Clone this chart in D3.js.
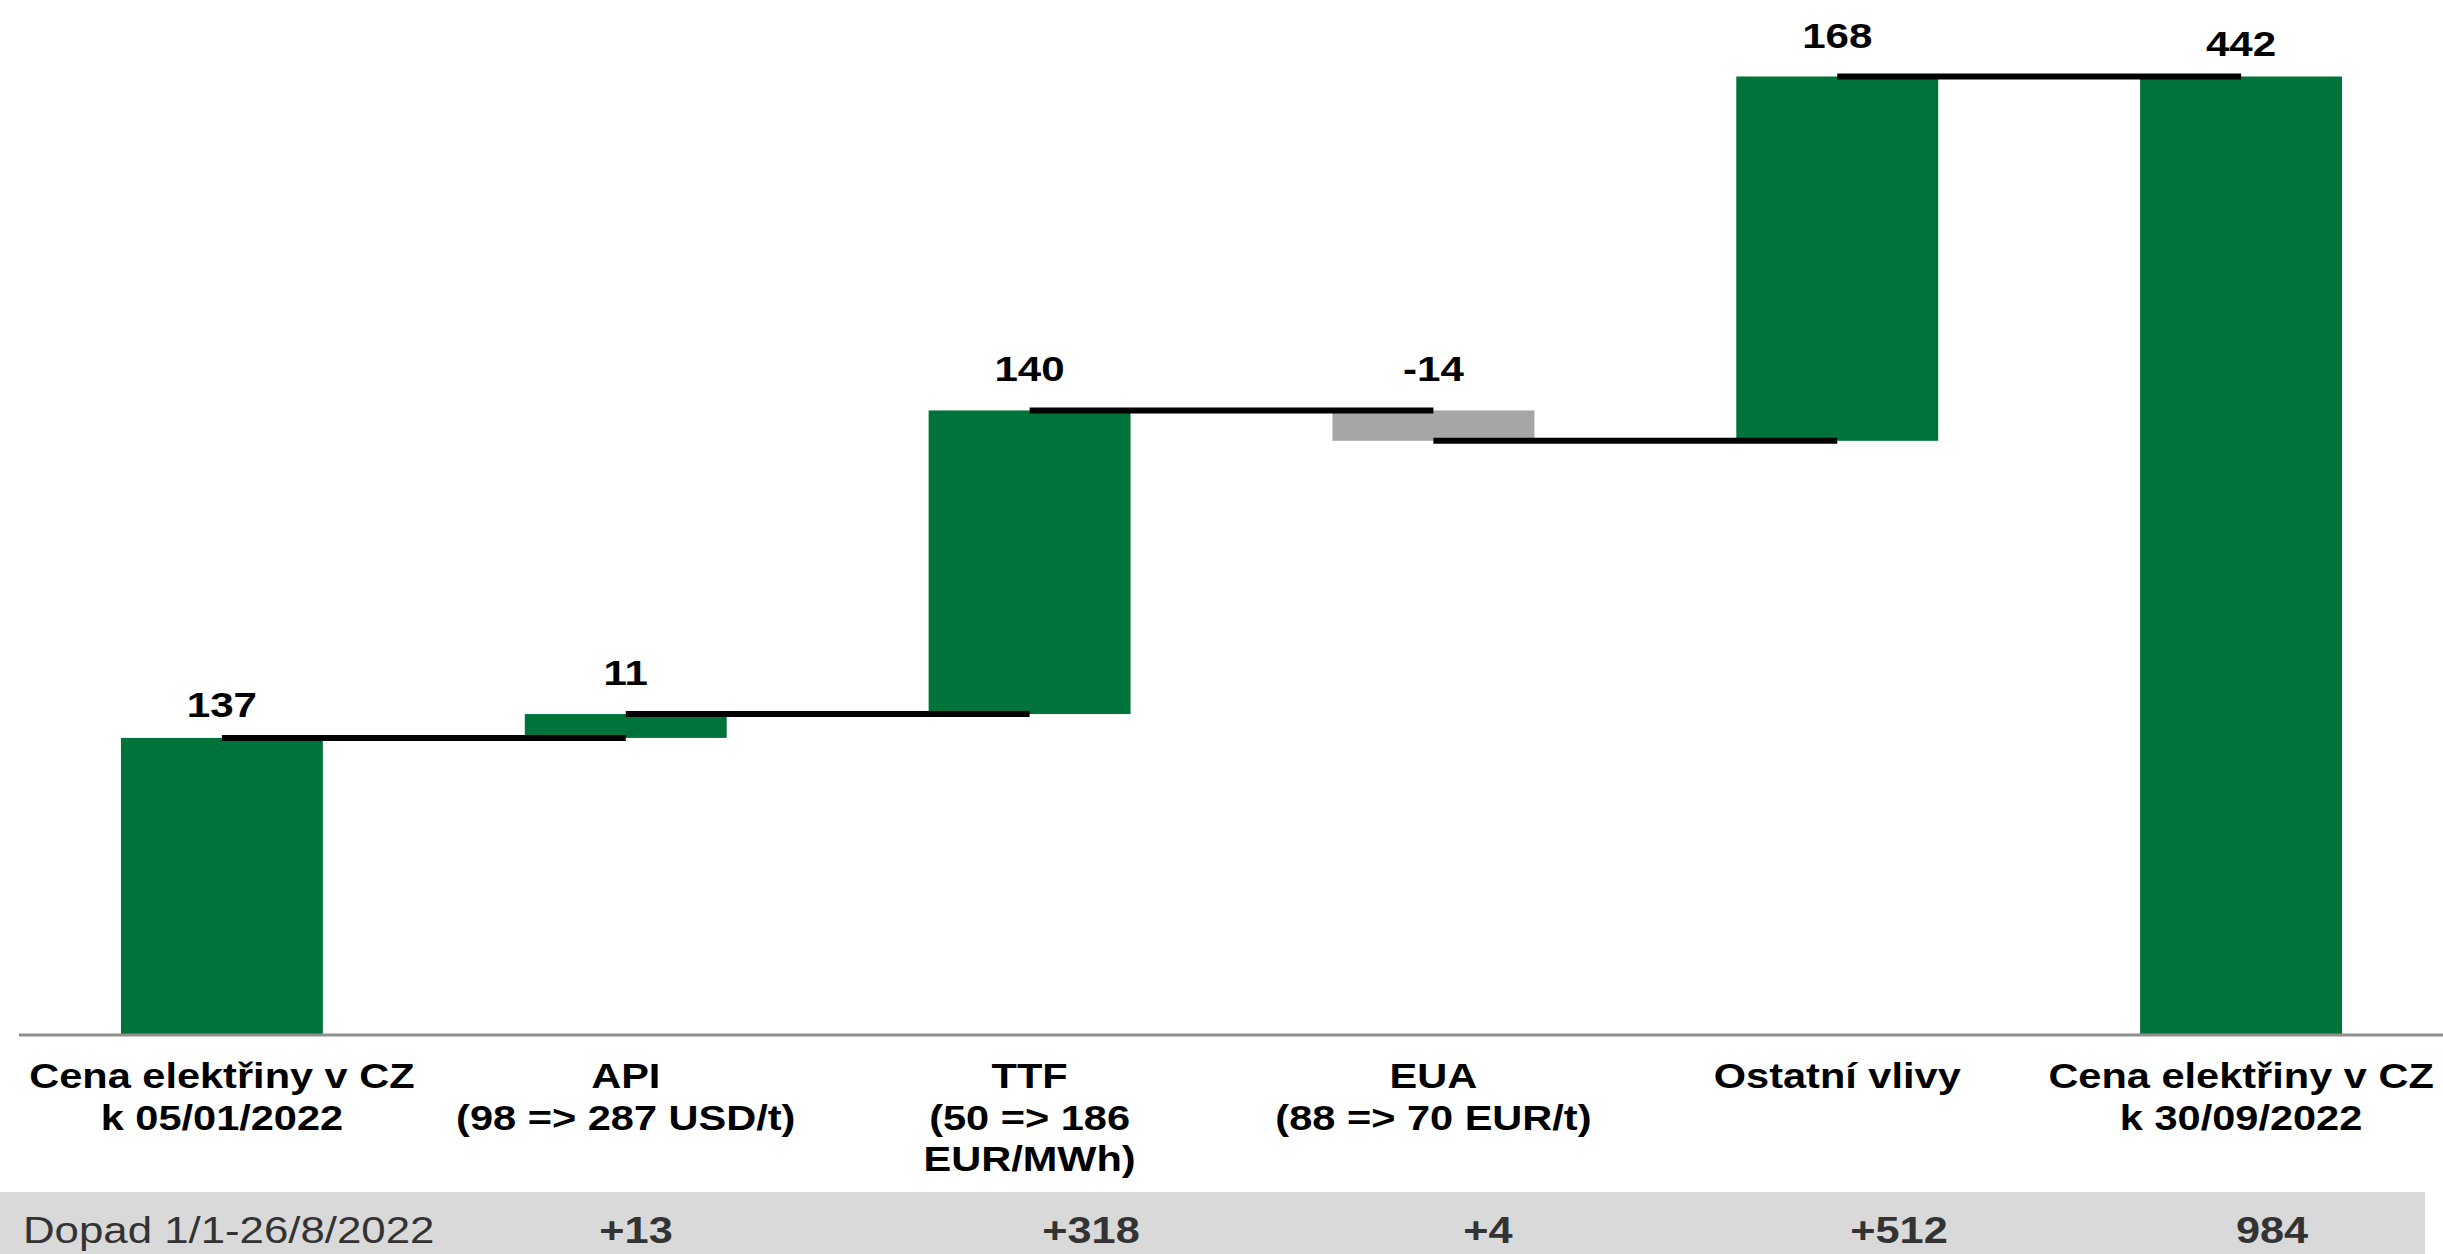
<!DOCTYPE html>
<html><head><meta charset="utf-8">
<script src="https://cdn.jsdelivr.net/npm/d3@7"></script>
<style>html,body{margin:0;padding:0;background:#fff;overflow:hidden}</style>
</head><body><svg id="c" width="2443" height="1254"></svg>
<script>
// ---- data ----
const categories = ["start", "API", "TTF", "EUA", "other", "end"];
const categoryLabels = [
  ["Cena elektřiny v CZ", "k 05/01/2022"],
  ["API", "(98 => 287 USD/t)"],
  ["TTF", "(50 => 186", "EUR/MWh)"],
  ["EUA", "(88 => 70 EUR/t)"],
  ["Ostatní vlivy"],
  ["Cena elektřiny v CZ", "k 30/09/2022"]
];
const values = [137, 11, 140, -14, 168, 442];
const barTypes = ["total", "delta", "delta", "delta", "delta", "total"];
const valueLabels = ["137", "11", "140", "-14", "168", "442"];
const tableTitle = "Dopad 1/1-26/8/2022";
const tableValues = ["+13", "+318", "+4", "+512", "984"];

// ---- layout ----
const W = 2443, H = 1254;
const axisY = 1035;
const tableColX = [636, 1091, 1488, 1899, 2272];
const SX = 1.17; // horizontal text stretch
const green = "#00733a", grey = "#a6a6a6";

const svg = d3.select("#c");

const x = d3.scaleBand().domain(categories).range([20, W]).paddingInner(0.5).paddingOuter(0.25);
const y = d3.scaleLinear().domain([0, 442]).range([axisY, 76.5]);

// waterfall computation
let cum = 0;
const bars = categories.map((c, i) => {
  let start, end;
  if (barTypes[i] === "total") { start = 0; end = values[i]; }
  else { start = cum; end = cum + values[i]; }
  cum = end;
  return { c, i, start, end, v: values[i], type: barTypes[i] };
});

function stext(sel, px, py, txt, opts) {
  return sel.append("text")
    .attr("transform", `translate(${px},${py}) scale(${opts.sx || SX},1)`)
    .attr("text-anchor", opts.anchor || "middle")
    .attr("font-family", "'Liberation Sans', Arial, sans-serif")
    .attr("font-size", opts.size || 35)
    .attr("font-weight", opts.weight || "bold")
    .attr("fill", opts.fill || "#000")
    .text(txt);
}

// bars
svg.append("g").selectAll("rect").data(bars).join("rect")
  .attr("x", d => x(d.c))
  .attr("width", x.bandwidth())
  .attr("y", d => y(Math.max(d.start, d.end)))
  .attr("height", d => Math.abs(y(d.start) - y(d.end)))
  .attr("fill", d => d.v < 0 ? grey : green);

// connectors
const conn = bars.slice(0, -1).map((d, i) => ({ x1: x(d.c) + x.bandwidth() / 2, x2: x(bars[i + 1].c) + x.bandwidth() / 2, level: d.end }));
svg.append("g").selectAll("line").data(conn).join("line")
  .attr("x1", d => d.x1).attr("x2", d => d.x2)
  .attr("y1", d => y(d.level)).attr("y2", d => y(d.level))
  .attr("stroke", "#000").attr("stroke-width", 6);

// axis line
svg.append("line").attr("x1", 19).attr("x2", W).attr("y1", axisY).attr("y2", axisY)
  .attr("stroke", "#8f8f8f").attr("stroke-width", 3);

// value labels
const lg = svg.append("g");
bars.forEach((d, i) => {
  const gap = d.type === "total" ? 21 : 29;
  stext(lg, x(d.c) + x.bandwidth() / 2, y(Math.max(d.start, d.end)) - gap, valueLabels[i], { size: 36 });
});

// category labels
const cg = svg.append("g");
categoryLabels.forEach((lines, i) => {
  lines.forEach((ln, j) => {
    stext(cg, x(categories[i]) + x.bandwidth() / 2, 1088 + j * 41.5, ln, { size: 35.5 });
  });
});

// table row
svg.append("rect").attr("x", 0).attr("y", 1192).attr("width", 2425).attr("height", H - 1192).attr("fill", "#d9d9d9");
stext(svg, 23, 1243, tableTitle, { size: 36.5, weight: "normal", anchor: "start", fill: "#333", sx: 1.2 });
tableValues.forEach((t, i) => {
  stext(svg, tableColX[i], 1243, t, { size: 37, fill: "#333" });
});
</script>
</body></html>
